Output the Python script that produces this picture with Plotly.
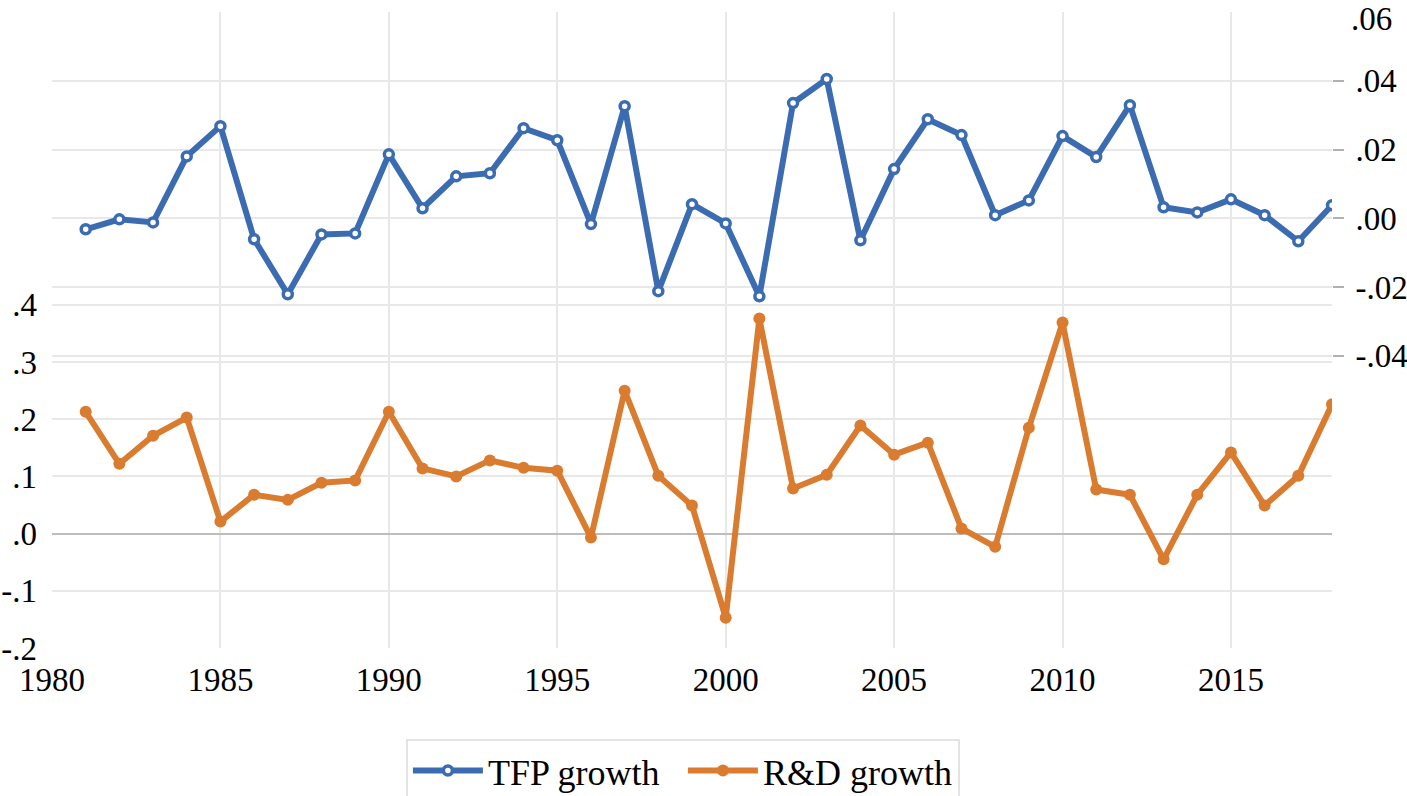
import plotly.graph_objects as go

years = list(range(1981, 2019))
tfp_growth = [-0.0032, -0.0003, -0.0012, 0.0180, 0.0268, -0.0061, -0.0221, -0.0047, -0.0044, 0.0186,
              0.0029, 0.0122, 0.0131, 0.0262, 0.0227, -0.0017, 0.0326, -0.0212, 0.0041, -0.0015,
              -0.0227, 0.0335, 0.0405, -0.0064, 0.0143, 0.0288, 0.0242, 0.0009, 0.0052, 0.0239,
              0.0178, 0.0329, 0.0032, 0.0017, 0.0055, 0.0009, -0.0067, 0.0038]
rd_growth = [0.213, 0.122, 0.171, 0.203, 0.021, 0.068, 0.059, 0.089, 0.093, 0.213,
             0.114, 0.100, 0.128, 0.115, 0.110, -0.007, 0.250, 0.101, 0.049, -0.147,
             0.376, 0.079, 0.103, 0.189, 0.138, 0.159, 0.009, -0.023, 0.185, 0.369,
             0.077, 0.068, -0.045, 0.068, 0.142, 0.049, 0.101, 0.226]

left_ticks = [-0.2, -0.1, 0.0, 0.1, 0.2, 0.3, 0.4]
left_labels = ["-.2", "-.1", ".0", ".1", ".2", ".3", ".4"]
right_ticks = [-0.04, -0.02, 0.0, 0.02, 0.04]
right_labels = ["-.04", "-.02", ".00", ".02", ".04"]
right_top_value = 0.06
right_top_label = ".06"
x_ticks = [1980, 1985, 1990, 1995, 2000, 2005, 2010, 2015]

blue = "#3B6CB2"
orange = "#DA7C30"
font_family = "Liberation Serif"
tick_size = 33

fig = go.Figure()
fig.add_trace(go.Scatter(
    x=years, y=tfp_growth, name="TFP growth", yaxis="y2", mode="lines+markers",
    line=dict(color=blue, width=6),
    marker=dict(symbol="circle", size=9, color="white", line=dict(color=blue, width=3.5)),
))
fig.add_trace(go.Scatter(
    x=years, y=rd_growth, name="R&D growth", yaxis="y", mode="lines+markers",
    line=dict(color=orange, width=6),
    marker=dict(symbol="circle", size=12, color=orange),
))

fig.add_annotation(x=1, xref="paper", y=right_top_value, yref="y2", text=right_top_label,
                   showarrow=False, xanchor="left", yanchor="middle", xshift=17, yshift=-7,
                   font=dict(family=font_family, size=tick_size, color="black"))

fig.update_layout(
    width=1407, height=796,
    margin=dict(l=52, r=75, t=12, b=148, autoexpand=False),
    paper_bgcolor="white", plot_bgcolor="white",
    font=dict(family=font_family, size=tick_size, color="black"),
    showlegend=True,
    legend=dict(orientation="h", x=0.2765, xanchor="left", y=-0.1425, yanchor="top",
                bordercolor="#e3e3e3", borderwidth=2, font=dict(size=36, family=font_family),
                itemwidth=70, entrywidth=190, entrywidthmode="pixels", traceorder="normal"),
    xaxis=dict(range=[1980, 2018], tickvals=x_ticks, ticktext=[str(t) for t in x_ticks],
               showgrid=True, gridcolor="#e8e8e8", gridwidth=1.5, zeroline=False,
               showline=False, ticks="", ticklabelstandoff=9, automargin=False),
    yaxis=dict(range=[-0.2, 0.912], tickvals=left_ticks, ticktext=left_labels,
               showgrid=True, gridcolor="#e8e8e8", gridwidth=1.5,
               zeroline=True, zerolinecolor="#bdbdbd", zerolinewidth=1.5,
               showline=False, ticks="", ticklabelstandoff=14, automargin=False,
               ticklabeloverflow="allow"),
    yaxis2=dict(range=[-0.125, 0.06], tickvals=right_ticks, ticktext=right_labels,
                overlaying="y", side="right",
                showgrid=True, gridcolor="#e8e8e8", gridwidth=1.5, zeroline=False,
                showline=False, ticks="outside", ticklen=11, tickcolor="#b0b0b0", tickwidth=1.5,
                ticklabelstandoff=5, automargin=False, ticklabeloverflow="allow"),
)

fig.write_html("out.html", config={"displayModeBar": False},
               post_script="document.body.style.margin='0px';")
